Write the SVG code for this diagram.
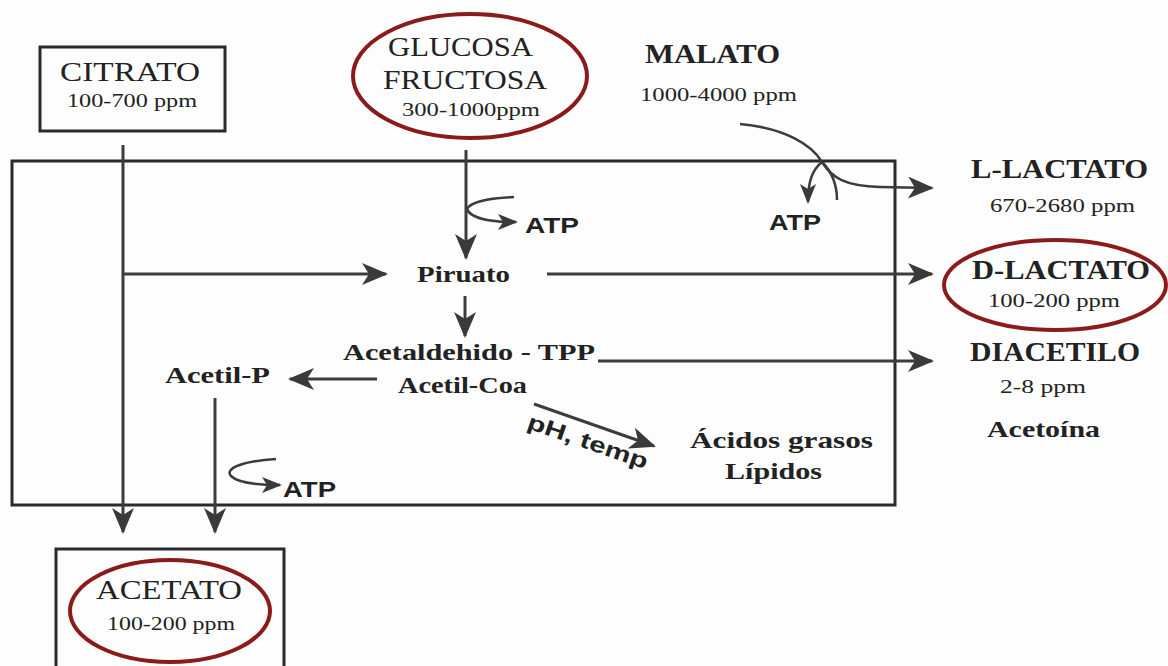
<svg xmlns="http://www.w3.org/2000/svg" width="1168" height="666" viewBox="0 0 1168 666">
<style>
  .t{font-family:"Liberation Serif","Times New Roman",serif;fill:#222;}
  .big{font-size:27px;}
  .sm{font-size:19px;}
  .b{font-weight:bold;}
  .mid{font-size:23px;font-weight:bold;}
  .atp{font-family:"Liberation Sans",Arial,sans-serif;font-weight:bold;font-size:22px;fill:#222;}
  .box{fill:none;stroke:#2a2a2a;stroke-width:3;}
  .ell{fill:none;stroke:#8b1a1a;stroke-width:4;}
  .ln{fill:none;stroke:#3c3c3c;stroke-width:3;}
  .ln2{fill:none;stroke:#3c3c3c;stroke-width:2.5;}
</style>
<defs>
  <marker id="ah" viewBox="0 0 26 22" refX="24" refY="11" markerWidth="26" markerHeight="22" markerUnits="userSpaceOnUse" orient="auto">
    <path d="M0,0 L26,11 L0,22 L7,11 Z" fill="#3a3a3a"/>
  </marker>
  <marker id="ahs" viewBox="0 0 20 16" refX="18" refY="8" markerWidth="20" markerHeight="16" markerUnits="userSpaceOnUse" orient="auto">
    <path d="M0,0 L20,8 L0,16 L5,8 Z" fill="#3a3a3a"/>
  </marker>
</defs>
<rect width="1168" height="666" fill="#fdfdfd"/>

<g id="cell">
  <rect x="12" y="161" width="883" height="344" class="box" stroke="#444"/>
</g>

<g id="connectors">
  <line x1="123" y1="145" x2="123" y2="532" class="ln" marker-end="url(#ah)"/>
  <line x1="123" y1="274" x2="386" y2="274" class="ln" marker-end="url(#ah)"/>
  <line x1="466" y1="150" x2="466" y2="258" class="ln" marker-end="url(#ah)"/>
  <path d="M514,197 C490,198 470,202 467,209 C470,218 490,222 516,222" class="ln2" marker-end="url(#ahs)"/>
  <line x1="465" y1="296" x2="465" y2="336" class="ln" marker-end="url(#ah)"/>
  <line x1="547" y1="274" x2="932" y2="274" class="ln" marker-end="url(#ah)"/>
  <line x1="598" y1="361" x2="932" y2="361" class="ln" marker-end="url(#ah)"/>
  <line x1="377" y1="379" x2="290" y2="379" class="ln" marker-end="url(#ah)"/>
  <line x1="215" y1="398" x2="215" y2="532" class="ln" marker-end="url(#ah)"/>
  <path d="M276,459 C244,461 224,468 231,476 C238,483 256,485 280,485" class="ln2" marker-end="url(#ahs)"/>
  <line x1="534" y1="404" x2="654" y2="446" class="ln" marker-end="url(#ah)"/>
  <path d="M740,124 C785,128 812,145 822,162 C832,178 845,186 880,187 L932,188" class="ln2" marker-end="url(#ah)"/>
  <path d="M822,162 C812,170 808,182 808,202" class="ln2" marker-end="url(#ahs)"/>
  <path d="M822,162 C832,172 837,185 837,200" class="ln2"/>
</g>

<g id="citrato">
  <rect x="40" y="47" width="185" height="84" class="box"/>
  <text x="60" y="81" class="t big" textLength="140" lengthAdjust="spacingAndGlyphs">CITRATO</text>
  <text x="67" y="107" class="t sm" textLength="130" lengthAdjust="spacingAndGlyphs">100-700 ppm</text>
</g>

<g id="glucosa">
  <ellipse cx="470" cy="76" rx="117" ry="62" class="ell"/>
  <text x="388" y="56" class="t big" textLength="145" lengthAdjust="spacingAndGlyphs">GLUCOSA</text>
  <text x="383" y="89" class="t big" textLength="164" lengthAdjust="spacingAndGlyphs">FRUCTOSA</text>
  <text x="402" y="116" class="t sm" textLength="138" lengthAdjust="spacingAndGlyphs">300-1000ppm</text>
</g>

<g id="malato">
  <text x="645" y="63" class="t big b" textLength="135" lengthAdjust="spacingAndGlyphs">MALATO</text>
  <text x="640" y="101" class="t sm" textLength="157" lengthAdjust="spacingAndGlyphs">1000-4000 ppm</text>
</g>

<g id="atp-glucosa"><text x="525" y="233" class="atp" textLength="54" lengthAdjust="spacingAndGlyphs">ATP</text></g>
<g id="atp-malato"><text x="769" y="230" class="atp" textLength="52" lengthAdjust="spacingAndGlyphs">ATP</text></g>
<g id="atp-acetil"><text x="283" y="497" class="atp" textLength="53" lengthAdjust="spacingAndGlyphs">ATP</text></g>

<g id="l-lactato">
  <text x="971" y="178" class="t big b" textLength="177" lengthAdjust="spacingAndGlyphs">L-LACTATO</text>
  <text x="990" y="212" class="t sm" textLength="145" lengthAdjust="spacingAndGlyphs">670-2680 ppm</text>
</g>

<g id="d-lactato">
  <ellipse cx="1055" cy="285" rx="111" ry="45" class="ell"/>
  <text x="972" y="279" class="t big b" textLength="178" lengthAdjust="spacingAndGlyphs">D-LACTATO</text>
  <text x="988" y="307" class="t sm" textLength="132" lengthAdjust="spacingAndGlyphs">100-200 ppm</text>
</g>

<g id="diacetilo">
  <text x="970" y="361" class="t big b" textLength="170" lengthAdjust="spacingAndGlyphs">DIACETILO</text>
  <text x="1000" y="393" class="t sm" textLength="86" lengthAdjust="spacingAndGlyphs">2-8 ppm</text>
  <text x="987" y="437" class="t mid" textLength="113" lengthAdjust="spacingAndGlyphs">Acetoína</text>
</g>

<g id="piruato"><text x="417" y="282" class="t mid" textLength="93" lengthAdjust="spacingAndGlyphs">Piruato</text></g>

<g id="acetaldehido">
  <text x="343" y="360" class="t mid" textLength="252" lengthAdjust="spacingAndGlyphs">Acetaldehido - TPP</text>
  <text x="398" y="393" class="t mid" textLength="129" lengthAdjust="spacingAndGlyphs">Acetil-Coa</text>
</g>

<g id="acetil-p"><text x="165" y="383" class="t mid" textLength="105" lengthAdjust="spacingAndGlyphs">Acetil-P</text></g>

<g id="ph-temp">
  <text x="0" y="0" class="atp" font-size="21" transform="translate(526,428) rotate(19)" textLength="126" lengthAdjust="spacingAndGlyphs">pH, temp</text>
</g>

<g id="acidos">
  <text x="690" y="448" class="t mid" font-size="24" textLength="183" lengthAdjust="spacingAndGlyphs">Ácidos grasos</text>
  <text x="725" y="479" class="t mid" font-size="24" textLength="97" lengthAdjust="spacingAndGlyphs">Lípidos</text>
</g>

<g id="acetato">
  <rect x="56" y="549" width="228" height="130" class="box"/>
  <ellipse cx="170" cy="611" rx="100" ry="51" class="ell"/>
  <text x="96" y="599" class="t big" textLength="146" lengthAdjust="spacingAndGlyphs">ACETATO</text>
  <text x="107" y="630" class="t sm" textLength="128" lengthAdjust="spacingAndGlyphs">100-200 ppm</text>
</g>
</svg>
